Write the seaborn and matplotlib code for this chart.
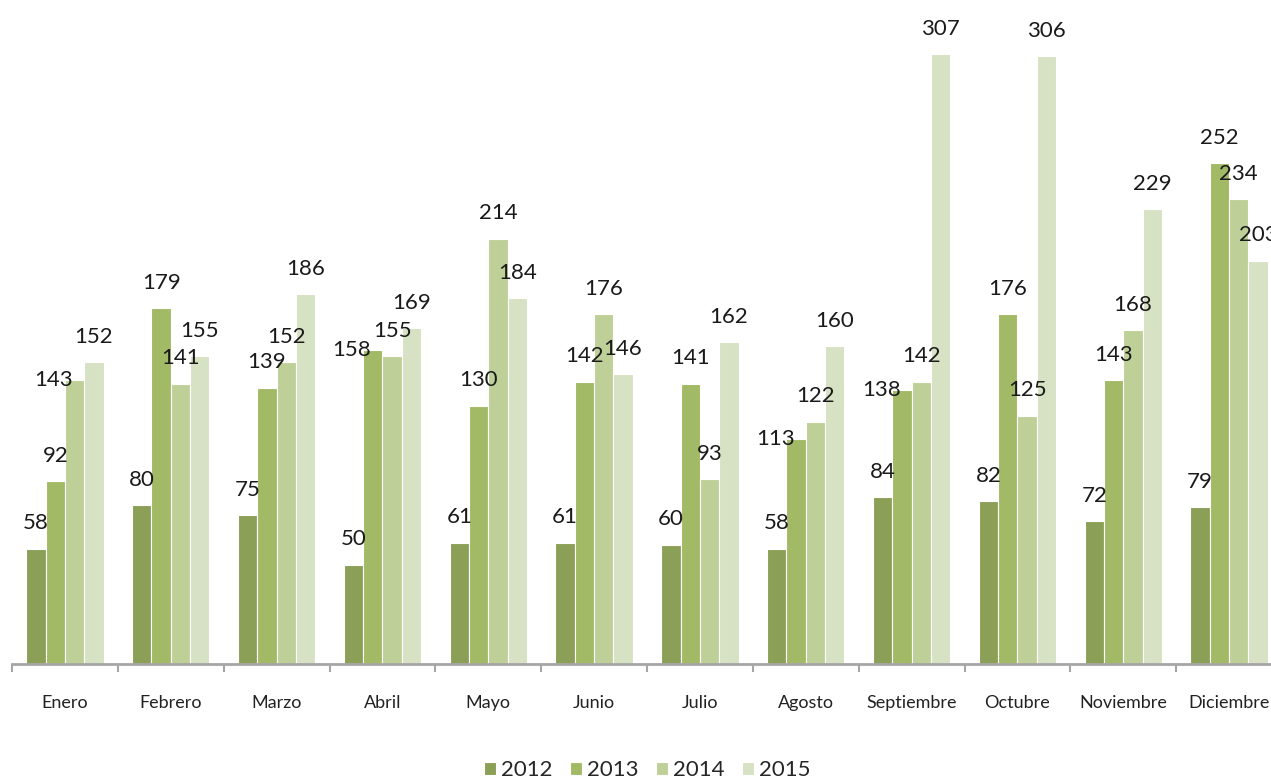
import matplotlib
matplotlib.use("Agg")
import matplotlib.pyplot as plt
import numpy as np
import pandas as pd
import seaborn as sns

meses = ['Enero', 'Febrero', 'Marzo', 'Abril', 'Mayo', 'Junio', 'Julio',
         'Agosto', 'Septiembre', 'Octubre', 'Noviembre', 'Diciembre']
anios = ['2012', '2013', '2014', '2015']
v2012 = [58, 80, 75, 50, 61, 61, 60, 58, 84, 82, 72, 79]
v2013 = [92, 179, 139, 158, 130, 142, 141, 113, 138, 176, 143, 252]
v2014 = [143, 141, 152, 155, 214, 176, 93, 122, 142, 125, 168, 234]
v2015 = [152, 155, 186, 169, 184, 146, 162, 160, 307, 306, 229, 203]
colores = ['#8b9f56', '#a2ba66', '#bed097', '#d6e2c3']

df = pd.DataFrame({
    'Mes': meses * 4,
    'Anio': [a for a in anios for _ in meses],
    'Valor': v2012 + v2013 + v2014 + v2015,
})

sns.set_style("white")
plt.rcParams['font.family'] = ['Lato', 'DejaVu Sans']

fig = plt.figure(figsize=(12.71, 7.8), dpi=100)
ax = fig.add_axes([12 / 1271, 116 / 780, 1270 / 1271, 636 / 780])

sns.barplot(data=df, x='Mes', y='Valor', hue='Anio', palette=colores, saturation=1,
            width=0.73, edgecolor='white', linewidth=0.8, ax=ax)

etiquetas = []
for cont in ax.containers:
    etiquetas.append(ax.bar_label(cont, padding=11, fontsize=16, color='#1a1a1a'))

ax.set_ylim(0, 320)
ax.set_xlim(-0.5, 11.5)
ax.set_xlabel('')
ax.set_ylabel('')
ax.set_yticks([])
for s in ['top', 'right', 'left']:
    ax.spines[s].set_visible(False)
ax.spines['bottom'].set_color('#a6a6a6')
ax.spines['bottom'].set_linewidth(2)

ax.set_xticks(np.arange(-0.5, 12, 1), minor=True)
ax.tick_params(axis='x', which='minor', length=6, width=1.5, color='#a6a6a6', direction='out', bottom=True)
ax.tick_params(axis='x', which='major', length=0, pad=22, labelsize=13, labelcolor='#222222')

# like Excel's best fit: a label that collides with its right neighbour moves to the left of its bar
fig.canvas.draw()
r = fig.canvas.get_renderer()
for j in range(len(meses)):
    for i in range(len(anios) - 2, -1, -1):
        a = etiquetas[i][j]
        b = etiquetas[i + 1][j]
        ba = a.get_window_extent(r).expanded(1.05, 1.0)
        bb = b.get_window_extent(r)
        if ba.overlaps(bb):
            a.xyann = (-15, 0)
            a.set_va('center')

h, l = ax.get_legend_handles_labels()
ax.legend(h, l, loc='center', bbox_to_anchor=(0.5, -0.167), ncol=4, frameon=False,
          fontsize=16, handlelength=0.55, handleheight=0.55, handletextpad=0.2,
          columnspacing=0.8)

fig.savefig('out.png', dpi=100)
